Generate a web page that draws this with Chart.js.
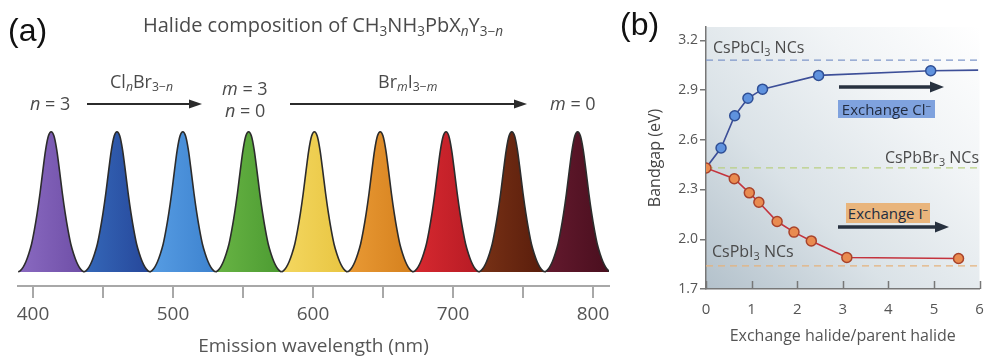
<!DOCTYPE html>
<html><head><meta charset="utf-8">
<script src="https://cdn.jsdelivr.net/npm/chart.js@4.4.1/dist/chart.umd.min.js"></script>
<style>
html,body{margin:0;padding:0;background:#fff;}
#wrap{position:relative;width:986px;height:358px;overflow:hidden;font-family:'Open Sans',sans-serif;}
canvas{position:absolute;top:0;}
#ca{left:0;} #cb{left:620px;}
.t{position:absolute;white-space:nowrap;line-height:1;color:#4a4a4a;font-family:'Open Sans',sans-serif;}
.t sub{font-size:0.68em;vertical-align:-0.28em;line-height:0;}
.t sup{font-size:0.65em;vertical-align:0.55em;line-height:0;}
.box{position:absolute;white-space:nowrap;text-align:center;font-family:'Open Sans',sans-serif;font-size:15px;color:#222c40;}
.box sup{font-size:0.65em;vertical-align:0.55em;line-height:0;}
svg{position:absolute;left:0;top:0;}
</style></head>
<body><div id="wrap">
<canvas id="ca" width="620" height="358"></canvas>
<canvas id="cb" width="366" height="358"></canvas>

<div class="t" style="left:8px;top:14px;font-family:'Liberation Sans',Arial,sans-serif;font-size:32px;color:#111">(a)</div>
<div class="t" style="left:143px;top:15px;font-size:20px">Halide composition of CH<sub>3</sub>NH<sub>3</sub>PbX<sub><i>n</i></sub>Y<sub>3−<i>n</i></sub></div>
<div class="t" style="left:30px;top:94px;font-size:18px"><i>n</i> = 3</div>
<div class="t" style="left:110px;top:72px;font-size:18px">Cl<sub><i>n</i></sub>Br<sub>3−<i>n</i></sub></div>
<div class="t" style="left:222px;top:79px;font-size:18px"><i>m</i> = 3</div>
<div class="t" style="left:225px;top:101px;font-size:18px"><i>n</i> = 0</div>
<div class="t" style="left:378px;top:72px;font-size:18px">Br<sub><i>m</i></sub>I<sub>3−<i>m</i></sub></div>
<div class="t" style="left:550px;top:94px;font-size:18px"><i>m</i> = 0</div>

<div class="t" style="left:620px;top:8px;font-family:'Liberation Sans',Arial,sans-serif;font-size:32px;color:#111">(b)</div>
<div class="t" style="left:713px;top:39px;font-size:16px">CsPbCl<sub>3</sub> NCs</div>
<div class="t" style="right:7px;top:149px;font-size:16px">CsPbBr<sub>3</sub> NCs</div>
<div class="t" style="left:712px;top:243px;font-size:16px">CsPbI<sub>3</sub> NCs</div>
<div class="box" style="left:838px;top:100px;width:97px;height:18px;line-height:18px;background:#7fa2de">Exchange Cl<sup>−</sup></div>
<div class="box" style="left:846px;top:203px;width:84px;height:20px;line-height:20px;background:#e9b57c">Exchange I<sup>−</sup></div>

<svg width="986" height="358">
  <line x1="87" y1="104" x2="192" y2="104" stroke="#2b2b2b" stroke-width="2"/>
  <polygon points="202,104 189,99.5 189,108.5" fill="#2b2b2b"/>
  <line x1="290" y1="104" x2="517" y2="104" stroke="#2b2b2b" stroke-width="2"/>
  <polygon points="527,104 514,99.5 514,108.5" fill="#2b2b2b"/>
  <line x1="839" y1="87" x2="932" y2="87" stroke="#27313f" stroke-width="3.5"/>
  <polygon points="944,87 930,81.5 930,92.5" fill="#27313f"/>
  <line x1="838" y1="227" x2="937" y2="227" stroke="#27313f" stroke-width="3.5"/>
  <polygon points="949,227 935,221.5 935,232.5" fill="#27313f"/>
</svg>
</div>
<script>
// ---------- Panel (a): emission spectra ----------
const peakCenters = [413, 460, 507, 554, 601, 648, 695, 742, 789];      // nm
const profileOffsets = [-23.5,-22,-20,-18,-16,-14,-12,-10,-8,-6,-4,-2,0,2,4,6,8,10,12,14,16,18,20,22,23.5];
const profileHeights = [0,0.01,0.035,0.075,0.13,0.2,0.3,0.42,0.56,0.72,0.87,0.97,1,0.97,0.87,0.72,0.56,0.42,0.3,0.2,0.13,0.075,0.035,0.01,0];
const wavelengthTicks = [400,450,500,550,600,650,700,750,800];
const wavelengthLabels = [400,500,600,700,800];

// ---------- Panel (b): bandgap vs exchange ratio ----------
const clRatio = [0, 0.33, 0.63, 0.92, 1.24, 2.47, 4.93, 5.97];
const clGap   = [2.43, 2.55, 2.745, 2.85, 2.905, 2.988, 3.016, 3.02];
const iRatio  = [0, 0.62, 0.95, 1.16, 1.56, 1.93, 2.31, 3.09, 5.54];
const iGap    = [2.43, 2.365, 2.28, 2.223, 2.107, 2.043, 1.99, 1.89, 1.884];
const refNames = ['CsPbCl3', 'CsPbBr3', 'CsPbI3'];
const refGap   = [3.08, 2.43, 1.84];
const refSpan  = [0, 5.95];
const gapTicks = [1.7, 2.0, 2.3, 2.6, 2.9, 3.2];
const ratioTicks = [0, 1, 2, 3, 4, 5, 6];

// styles
const peakLight = ['#8868bf','#3466b7','#559be2','#66b243','#f3d65e','#e89833','#d5282f','#763015','#62192d'];
const peakDark  = ['#7050a8','#27499c','#3f84d0','#4e9d33','#e9c643','#d6821f','#b91c25','#5b1e0c','#4b0f1f'];
const refColors = ['#7f97c9','#b9cf82','#e5b27c'];

Chart.defaults.font.family = "'Open Sans', sans-serif";

function peakFill(ctx, k) {
  const chart = ctx.chart, a = chart.chartArea;
  if (!a) return peakLight[k];
  const xs = chart.scales.x;
  const x0 = xs.getPixelForValue(peakCenters[k] - 20), x1 = xs.getPixelForValue(peakCenters[k] + 20);
  const g = chart.ctx.createLinearGradient(x0, 0, x1, 0);
  g.addColorStop(0, peakLight[k]);
  g.addColorStop(1, peakDark[k]);
  return g;
}

new Chart(document.getElementById('ca'), {
  type: 'line',
  data: {
    datasets: peakCenters.map((c, k) => ({
      data: profileOffsets.map((o, i) => ({x: c + o, y: profileHeights[i]})),
      borderColor: '#2c2c2c', borderWidth: 1.6, pointRadius: 0,
      fill: 'origin', backgroundColor: ctx => peakFill(ctx, k),
      cubicInterpolationMode: 'monotone'
    }))
  },
  options: {
    responsive: false, animation: false, events: [],
    layout: {padding: {left: 18, right: 11, top: 129, bottom: 0}},
    plugins: {legend: {display: false}, tooltip: {enabled: false}},
    scales: {
      x: {
        type: 'linear', min: 389.3, max: 811.4,
        afterBuildTicks: s => { s.ticks = wavelengthTicks.map(v => ({value: v})); },
        afterFit: s => { s.height = 72; s.paddingLeft = 0; s.paddingRight = 0; },
        grid: {display: true, drawOnChartArea: false, drawTicks: true, tickLength: 12, color: '#a8a8a8', lineWidth: 2},
        border: {display: true, color: '#a8a8a8', width: 2},
        ticks: {autoSkip: false, maxRotation: 0, padding: 5, color: '#555', font: {size: 19},
                callback: v => wavelengthLabels.includes(v) ? String(v) : ''},
        title: {display: true, text: 'Emission wavelength (nm)', color: '#555', font: {size: 19}, padding: {top: 0, bottom: 0}}
      },
      y: {display: false, min: -0.1, max: 1.02}
    }
  }
});

const bgPlugin = {
  id: 'bg',
  beforeDraw(chart) {
    const {ctx, chartArea: a} = chart;
    const g = ctx.createLinearGradient(a.left, a.bottom, a.right, a.top);
    g.addColorStop(0, '#b3c1cb');
    g.addColorStop(0.35, '#dae2e7');
    g.addColorStop(0.7, '#f1f4f6');
    g.addColorStop(1, '#ffffff');
    ctx.save(); ctx.fillStyle = g;
    ctx.fillRect(a.left, a.top, a.right - a.left, a.bottom - a.top);
    ctx.restore();
  }
};
const innerTicks = {
  id: 'innerTicks',
  afterDraw(chart) {
    const {ctx, chartArea: a} = chart, xs = chart.scales.x;
    ctx.save(); ctx.strokeStyle = '#777'; ctx.lineWidth = 1.5;
    ratioTicks.forEach(v => {
      const x = Math.round(xs.getPixelForValue(v)) + 0.5;
      ctx.beginPath(); ctx.moveTo(x, a.bottom); ctx.lineTo(x, a.bottom - 8); ctx.stroke();
    });
    ctx.restore();
  }
};

const refSets = refNames.map((n, k) => ({
  label: n, data: refSpan.map(x => ({x, y: refGap[k]})),
  borderColor: refColors[k], borderWidth: 1.3, borderDash: [7, 5], pointRadius: 0, order: 5
}));

new Chart(document.getElementById('cb'), {
  type: 'line',
  data: {
    datasets: [
      {label: 'Exchange I', data: iRatio.map((x, i) => ({x, y: iGap[i]})),
       borderColor: '#c4333d', borderWidth: 1.6, pointRadius: 5, pointBorderWidth: 1.5,
       pointBackgroundColor: '#e98b50', pointBorderColor: '#a8432b', order: 1},
      {label: 'Exchange Cl', data: clRatio.map((x, i) => ({x, y: clGap[i]})),
       borderColor: '#3d4f98', borderWidth: 1.6,
       pointRadius: ctx => (ctx.dataIndex === 0 || ctx.dataIndex === clRatio.length - 1) ? 0 : 5,
       pointBorderWidth: 1.5, pointBackgroundColor: '#5f92de', pointBorderColor: '#2f4f95', order: 2},
      ...refSets
    ]
  },
  options: {
    responsive: false, animation: false, events: [],
    layout: {padding: {left: 0, right: 5, top: 27, bottom: 0}},
    plugins: {legend: {display: false}, tooltip: {enabled: false}},
    scales: {
      x: {
        type: 'linear', min: 0, max: 6,
        afterBuildTicks: s => { s.ticks = ratioTicks.map(v => ({value: v})); },
        afterFit: s => { s.height = 69; s.paddingLeft = 0; s.paddingRight = 0; },
        grid: {display: false},
        border: {display: true, color: '#777', width: 1.5},
        ticks: {padding: 4, color: '#555', font: {size: 15}},
        title: {display: true, text: 'Exchange halide/parent halide', color: '#555', font: {size: 16}, padding: {top: 0, bottom: 12}}
      },
      y: {
        min: 1.7, max: 3.28,
        afterBuildTicks: s => { s.ticks = gapTicks.map(v => ({value: v})); },
        afterFit: s => { s.width = 86; s.paddingTop = 0; s.paddingBottom = 0; },
        grid: {drawOnChartArea: false, tickLength: 6, color: '#777', lineWidth: 1.5},
        border: {color: '#777', width: 1.5},
        ticks: {padding: 2, color: '#555', font: {size: 14}, callback: v => v.toFixed(1)},
        title: {display: true, text: 'Bandgap (eV)', color: '#444', font: {size: 16}, padding: {top: 26, bottom: 0}}
      }
    }
  },
  plugins: [bgPlugin, innerTicks]
});
</script>
</body></html>
